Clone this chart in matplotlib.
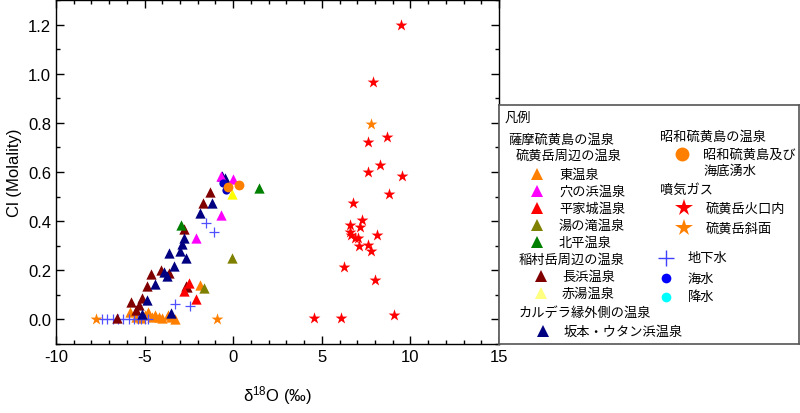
import matplotlib
matplotlib.use("Agg")
import matplotlib.pyplot as plt
from matplotlib.ticker import MultipleLocator

plt.rcParams['font.family'] = ['Liberation Sans', 'Noto Sans CJK JP', 'DejaVu Sans']
plt.rcParams['axes.unicode_minus'] = False

# data (d18O, Cl molality)
higashi_x = [-5.8, -5.5, -5.2, -5.0, -4.8, -4.6, -4.4, -4.2, -4.0, -3.7, -3.5, -3.3, -1.85]
higashi_y = [0.03, 0.01, 0.005, 0.02, 0.03, 0.01, 0.02, 0.01, 0.005, 0.02, 0.01, 0.0, 0.139]
anahama_x = [-0.68, -0.02, -0.68, -2.09]
anahama_y = [0.584, 0.570, 0.424, 0.332]
heikejo_x = [-2.52, -2.75, -2.11]
heikejo_y = [0.149, 0.115, 0.083]
yunotaki_x = [-0.04, -1.65]
yunotaki_y = [0.251, 0.129]
kitahira_x = [1.47, -2.93]
kitahira_y = [0.535, 0.386]
nagahama_x = [-1.30, -1.71, -2.78, -3.65, -4.06, -4.63, -4.84, -2.65, -2.61, -5.17, -5.76, -5.32, -5.51, -6.56]
nagahama_y = [0.519, 0.474, 0.368, 0.187, 0.200, 0.183, 0.138, 0.135, 0.130, 0.088, 0.069, 0.058, 0.038, 0.007]
akayu_x = [-0.07]
akayu_y = [0.512]
sakamoto_x = [-0.64, -0.45, -1.17, -1.85, -2.78, -2.90, -3.03, -3.61, -2.64, -3.33, -3.93, -3.74,
              -4.44, -4.84, -3.52, -5.12]
sakamoto_y = [0.584, 0.576, 0.472, 0.435, 0.332, 0.305, 0.278, 0.271, 0.248, 0.218, 0.194, 0.178,
              0.146, 0.078, 0.028, 0.024]
showa_x = [0.30, -0.27]
showa_y = [0.549, 0.539]
crater_x = [9.48, 7.90, 8.69, 7.58, 8.28, 7.58, 9.52, 8.77, 6.75, 7.28, 7.17, 6.58, 6.58, 6.62, 6.85,
            7.07, 8.09, 7.09, 7.60, 7.79, 6.28, 8.01, 4.57, 6.08, 9.10]
crater_y = [1.20, 0.966, 0.741, 0.722, 0.630, 0.598, 0.585, 0.512, 0.473, 0.404, 0.378, 0.386, 0.356,
            0.343, 0.333, 0.333, 0.343, 0.297, 0.301, 0.278, 0.213, 0.160, 0.004, 0.004, 0.016]
slope_x = [7.77, -7.73, -0.92]
slope_y = [0.794, 0.0, 0.0]
ground_x = [-7.4, -7.1, -6.8, -6.5, -6.2, -5.9, -5.6, -5.4, -5.2, -5.0, -4.8, -3.27, -2.43, -1.52, -1.11]
ground_y = [0.0, 0.0, 0.0, 0.0, 0.0, 0.0, 0.0, 0.0, 0.0, 0.0, 0.0, 0.061, 0.056, 0.394, 0.354]
sea_x = [-0.55, -0.40]
sea_y = [0.556, 0.528]
rain_x = []
rain_y = []

fig = plt.figure(figsize=(8, 4.14), dpi=100)
ax = fig.add_axes([56 / 800, 69 / 414, 443 / 800, 344 / 414])

tri = dict(marker='^', s=55, linewidths=0)
ax.scatter(higashi_x, higashi_y, color='#ff8000', **tri)
ax.scatter(ground_x, ground_y, color='#5050ff', marker='+', s=60, linewidths=0.9)
ax.scatter(nagahama_x, nagahama_y, color='#800000', **tri)
ax.scatter(sakamoto_x, sakamoto_y, color='#000080', **tri)
ax.scatter(heikejo_x, heikejo_y, color='#ff0000', **tri)
ax.scatter(yunotaki_x, yunotaki_y, color='#808000', **tri)
ax.scatter(kitahira_x, kitahira_y, color='#008000', **tri)
ax.scatter(anahama_x, anahama_y, color='#ff00ff', **tri)
ax.scatter(akayu_x, akayu_y, color='#ffff00', **tri)
ax.scatter(sea_x, sea_y, color='#0000c0', marker='o', s=35, linewidths=0)
ax.scatter(showa_x, showa_y, color='#ff8000', marker='o', s=50, linewidths=0)
ax.scatter(crater_x, crater_y, color='#ff0000', marker='*', s=80, linewidths=0)
ax.scatter(slope_x, slope_y, color='#ff8000', marker='*', s=80, linewidths=0)
ax.scatter(rain_x, rain_y, color='#00ffff', marker='o', s=35, linewidths=0)

ax.set_xlim(-10, 15)
ax.set_ylim(-0.1, 1.3)
ax.set_xticks([-10, -5, 0, 5, 10, 15])
ax.xaxis.set_minor_locator(MultipleLocator(1))
ax.set_yticks([0.0, 0.2, 0.4, 0.6, 0.8, 1.0, 1.2])
ax.yaxis.set_minor_locator(MultipleLocator(0.1))
ax.tick_params(which='both', direction='in', top=True, right=True, labelsize=12)
ax.tick_params(which='major', length=6, width=1)
ax.tick_params(which='minor', length=3, width=1)
for s in ax.spines.values():
    s.set_linewidth(1)
ax.set_xlabel(r'$\mathregular{\delta^{18}}$O (‰)', fontsize=12, labelpad=14)
ax.set_ylabel('Cl (Molality)', fontsize=12, labelpad=4)

# legend panel drawn as its own box, coordinates in pixels of the box
lg = fig.add_axes([499 / 800, 69 / 414, 300 / 800, 239 / 414])
lg.set_xlim(499, 799)
lg.set_ylim(345, 106)
lg.set_xticks([])
lg.set_yticks([])
for s in lg.spines.values():
    s.set_linewidth(1.2)
    s.set_color('#555555')

jp = dict(fontsize=9.5, va='center', ha='left', family=['Noto Sans CJK JP', 'DejaVu Sans'])
lg.text(505, 118, '凡例', **jp)
lg.text(508, 140, '薩摩硫黄島の温泉', **jp)
lg.text(516, 156, '硫黄岳周辺の温泉', **jp)

left_items = [
    ('^', '#ff8000', '東温泉', 537, 175, 559),
    ('^', '#ff00ff', '穴の浜温泉', 537, 192, 559),
    ('^', '#ff0000', '平家城温泉', 537, 209, 559),
    ('^', '#808000', '湯の滝温泉', 537, 226, 559),
    ('^', '#008000', '北平温泉', 537, 243, 559),
    ('^', '#800000', '長浜温泉', 541, 277, 562),
    ('^', '#ffff80', '赤湯温泉', 541, 294, 562),
    ('^', '#000080', '坂本・ウタン浜温泉', 543, 332, 564),
]
for m, c, label, mx, my, tx in left_items:
    lg.plot(mx, my, marker=m, color=c, ms=9, mew=0, ls='none')
    lg.text(tx, my, label, **jp)
lg.text(519, 260, '稲村岳周辺の温泉', **jp)
lg.text(519, 313, 'カルデラ縁外側の温泉', **jp)

lg.text(660, 137, '昭和硫黄島の温泉', **jp)
lg.text(660, 190, '噴気ガス', **jp)
right_items = [
    ('o', '#ff8000', '昭和硫黄島及び', 682, 155, 703, 10, 0),
    ('*', '#ff0000', '硫黄岳火口内', 684, 209, 706, 13, 0),
    ('*', '#ff8000', '硫黄岳斜面', 684, 229, 706, 13, 0),
    ('+', '#4040ff', '地下水', 666, 259, 688, 11, 1),
    ('o', '#0000ff', '海水', 666, 279, 688, 7, 0),
    ('o', '#00ffff', '降水', 666, 298, 688, 7, 0),
]
for m, c, label, mx, my, tx, ms, mew in right_items:
    lg.plot(mx, my, marker=m, color=c, ms=ms, mew=mew, ls='none')
    lg.text(tx, my, label, **jp)
lg.text(703, 171, '海底湧水', **jp)

fig.savefig('out.png', dpi=100)
